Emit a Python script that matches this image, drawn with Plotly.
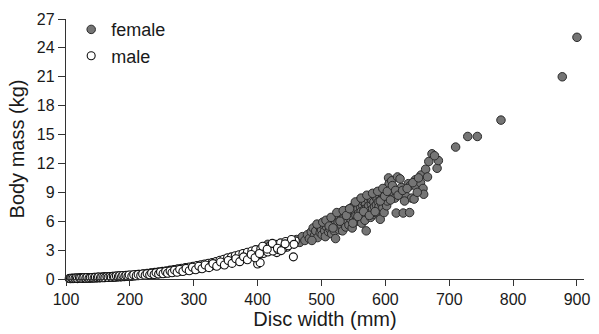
import plotly.graph_objects as go

# ---- data ----
female_width = [416, 419, 426, 438, 447, 455, 461, 466, 470, 474, 478, 481, 484, 487, 489, 491, 494, 496, 498, 500,
                501, 503, 505, 506, 508, 510, 511, 513, 514, 516, 517, 519, 520, 521, 522, 523, 525, 526, 527, 528,
                530, 531, 532, 533, 535, 536, 537, 538, 540, 541, 542, 543, 545, 546, 547, 548, 549, 550, 551, 552,
                553, 554, 555, 556, 557, 558, 559, 560, 561, 562, 563, 564, 565, 566, 567, 568, 569, 570, 571, 572,
                573, 574, 575, 576, 577, 578, 579, 580, 581, 582, 583, 584, 585, 586, 587, 588, 589, 590, 591, 592,
                593, 594, 595, 596, 597, 598, 600, 601, 602, 603, 604, 605, 606, 607, 609, 610, 612, 614, 615, 617,
                619, 621, 625, 628, 632, 636, 638, 639, 641, 645, 647, 647, 655, 656, 659, 660, 663, 673, 681, 683,
                710, 729, 744, 781, 877, 900,
                485, 493, 502, 507, 512, 515, 518, 524, 529, 534, 539, 544, 549, 553, 557, 562, 566, 571, 575, 580,
                584, 588, 592, 596, 599, 603, 608, 611, 616, 620, 623, 627, 630, 634, 643, 650, 652, 666, 668, 677]
female_mass = [3.6, 3.2, 3.1, 3.5, 3.4, 3.9, 4.1, 3.8, 4.4, 4.0, 4.6, 4.2, 4.9, 5.3, 4.5, 5.0, 4.3, 5.5, 4.8, 5.1,
               4.6, 5.6, 5.0, 4.4, 5.4, 5.8, 4.9, 5.2, 6.0, 4.7, 5.5, 6.2, 5.0, 5.7, 4.2, 6.4, 5.3, 5.9, 6.6, 5.1,
               6.1, 5.6, 6.8, 5.0, 6.3, 5.8, 7.0, 5.4, 6.5, 6.0, 7.2, 5.6, 6.7, 6.2, 7.4, 5.3, 6.9, 6.4, 7.6, 5.9,
               7.0, 6.6, 7.8, 6.1, 7.3, 6.8, 8.1, 6.3, 7.5, 7.0, 5.8, 7.7, 6.6, 8.0, 7.2, 6.1, 7.9, 5.0, 7.4, 8.3,
               6.8, 7.6, 8.5, 7.1, 6.4, 7.8, 8.2, 7.3, 6.7, 8.0, 7.5, 8.6, 6.9, 7.7, 8.3, 7.2, 8.0, 7.5, 8.7, 6.2,
               8.2, 7.8, 8.9, 7.4, 8.4, 6.9, 8.0, 9.0, 7.6, 8.1, 9.6, 10.5, 9.9, 8.6, 9.3, 10.2, 8.9, 8.8, 8.4, 6.85,
               10.6, 9.0, 9.5, 6.85, 8.6, 9.9, 6.9, 9.7, 8.4, 8.3, 9.7, 10.3, 10.0, 10.8, 9.4, 8.8, 11.4, 13.0, 11.5, 12.3,
               13.7, 14.8, 14.8, 16.5, 21.0, 25.1,
               4.0, 5.7, 5.9, 6.1, 5.5, 6.4, 5.3, 6.9, 6.0, 7.1, 6.6, 7.3, 5.8, 8.0, 6.5, 8.4, 7.0, 8.7, 6.6, 8.9,
               7.0, 9.1, 8.1, 9.4, 8.6, 9.1, 8.2, 9.7, 9.2, 8.7, 10.4, 9.2, 8.1, 9.4, 10.0, 9.0, 10.5, 10.6, 12.2, 12.8]

male_width = [105, 106, 108, 109, 110, 112, 113, 115, 116, 118, 119, 121, 122, 124, 125, 127, 128, 130, 131, 133,
              134, 136, 137, 139, 140, 142, 143, 145, 146, 148, 149, 151, 152, 154, 155, 157, 158, 160, 161, 163,
              164, 166, 167, 169, 170, 172, 174, 175, 177, 179, 180, 182, 184, 185, 187, 189, 190, 192, 194, 195,
              197, 199, 200, 202, 204, 206, 208, 210, 212, 214, 216, 218, 220, 222, 224, 226, 228, 230, 232, 234,
              236, 238, 240, 242, 244, 246, 248, 250, 252, 254, 256, 258, 260, 262, 264, 266, 268, 270, 272, 274,
              276, 278, 280, 282, 284, 286, 288, 290, 292, 294, 296, 298, 300, 302, 304, 306, 308, 310, 312, 314,
              316, 318, 320, 322, 324, 326, 328, 330, 332, 334, 336, 338, 340, 342, 344, 346, 348, 350, 352, 354,
              356, 358, 360, 362, 364, 366, 368, 370, 372, 374, 376, 378, 380, 383, 385, 388, 390, 393, 395, 398,
              400, 402, 404, 406, 410, 414, 418, 422, 426, 430, 434, 438, 442, 446, 450, 456, 459,
              111, 114, 117, 120, 123, 126, 129, 132, 135, 138, 141, 144, 147, 150, 153, 156, 159, 162, 165, 168,
              171, 173, 176, 178, 181, 183, 186, 188, 191, 193, 196, 198, 201, 203, 207, 209, 213, 215, 219, 221,
              225, 227, 231, 233, 237, 239, 243, 245, 249, 251, 255, 257, 261, 263, 267, 269, 273, 275, 279, 281,
              285, 287, 291, 293, 297, 299, 303, 305, 309, 311, 315, 317, 321, 323, 327, 329, 333, 335, 339, 341,
              345, 347, 351, 353, 357, 359, 363, 365, 369, 371, 375, 377, 381, 384, 387, 391, 394, 397, 401, 405,
              409, 412, 416, 420, 424, 428, 432, 436, 440, 444, 448, 453, 457,
              107, 109, 111, 114, 116, 118, 121, 123, 126, 128, 131, 133, 136, 138, 141, 144, 146, 149, 151, 154,
              156, 159, 161, 164, 166, 169, 171, 174, 176, 179, 182, 184, 187, 189, 192, 194, 197, 199, 203, 206,
              210, 213, 217, 220, 224, 227, 231, 234, 238, 241, 245, 248, 252, 256, 259, 263, 266, 270, 274, 278,
              283, 288, 293, 298, 303, 308, 313, 318, 324, 330, 336, 342, 348, 354, 360, 366, 372, 378, 384, 390,
              396, 403, 408, 415, 423, 431, 437, 443]
male_mass = [0.05, 0.06, 0.05, 0.07, 0.06, 0.05, 0.07, 0.06, 0.08, 0.07, 0.09, 0.08, 0.07, 0.09, 0.10, 0.08, 0.11, 0.09, 0.10, 0.12,
             0.10, 0.11, 0.13, 0.11, 0.12, 0.14, 0.12, 0.13, 0.15, 0.14, 0.16, 0.13, 0.15, 0.17, 0.16, 0.14, 0.18, 0.17, 0.19, 0.16,
             0.20, 0.18, 0.21, 0.19, 0.22, 0.20, 0.23, 0.21, 0.25, 0.22, 0.26, 0.24, 0.27, 0.25, 0.29, 0.26, 0.30, 0.28, 0.31, 0.29,
             0.33, 0.30, 0.34, 0.36, 0.32, 0.38, 0.35, 0.40, 0.37, 0.43, 0.39, 0.45, 0.42, 0.48, 0.44, 0.50, 0.46, 0.52, 0.49, 0.55,
             0.51, 0.58, 0.54, 0.62, 0.57, 0.65, 0.60, 0.68, 0.63, 0.72, 0.66, 0.76, 0.70, 0.80, 0.73, 0.84, 0.77, 0.88, 0.81, 0.92,
             0.85, 0.97, 0.89, 1.01, 0.93, 1.06, 0.98, 1.11, 1.02, 1.16, 1.07, 1.20, 1.10, 1.25, 1.14, 1.30, 1.20, 1.36, 1.24, 1.42,
             1.30, 1.48, 1.36, 1.54, 1.41, 1.60, 1.47, 1.67, 1.52, 1.74, 1.58, 1.81, 1.66, 1.88, 1.72, 1.95, 1.78, 2.02, 1.85, 2.10,
             1.92, 2.17, 1.98, 2.25, 2.06, 2.33, 2.14, 2.41, 2.20, 2.50, 2.28, 2.58, 2.35, 2.65, 2.44, 2.74, 2.50, 2.84, 2.58, 2.95,
             1.55, 2.90, 1.70, 2.75, 3.05, 2.85, 3.30, 3.10, 2.95, 2.74, 3.40, 3.25, 3.55, 3.30, 3.70, 2.30, 3.95,
             0.04, 0.09, 0.05, 0.10, 0.06, 0.12, 0.07, 0.14, 0.08, 0.15, 0.10, 0.17, 0.11, 0.19, 0.12, 0.21, 0.13, 0.23, 0.15, 0.25,
             0.17, 0.27, 0.18, 0.30, 0.20, 0.32, 0.22, 0.34, 0.24, 0.36, 0.26, 0.39, 0.28, 0.42, 0.31, 0.46, 0.34, 0.50, 0.38, 0.55,
             0.41, 0.60, 0.45, 0.64, 0.48, 0.69, 0.52, 0.74, 0.56, 0.79, 0.60, 0.85, 0.64, 0.92, 0.70, 0.98, 0.75, 1.05, 0.80, 1.12,
             0.88, 1.18, 0.93, 1.25, 0.99, 1.32, 1.05, 1.40, 1.12, 1.48, 1.18, 1.55, 1.25, 1.63, 1.33, 1.72, 1.40, 1.82, 1.50, 1.95,
             1.60, 2.05, 1.70, 2.20, 1.80, 2.30, 1.90, 2.42, 2.00, 2.52, 2.10, 2.65, 2.20, 2.78, 2.30, 2.90, 2.40, 3.05, 2.55, 3.15,
             2.65, 3.25, 2.80, 3.45, 2.90, 3.60, 3.05, 3.75, 3.20, 3.90, 3.45, 4.10, 3.60,
             0.03, 0.08, 0.07, 0.05, 0.10, 0.04, 0.11, 0.09, 0.06, 0.13, 0.08, 0.15, 0.09, 0.12, 0.16, 0.10, 0.18, 0.12, 0.20, 0.13,
             0.18, 0.22, 0.14, 0.24, 0.16, 0.26, 0.19, 0.28, 0.21, 0.31, 0.23, 0.33, 0.24, 0.36, 0.26, 0.38, 0.28, 0.41, 0.30, 0.44,
             0.33, 0.48, 0.36, 0.52, 0.40, 0.56, 0.43, 0.61, 0.47, 0.66, 0.51, 0.72, 0.55, 0.78, 0.60, 0.84, 0.65, 0.92, 0.70, 1.00,
             0.78, 1.10, 0.86, 1.22, 0.96, 1.34, 1.06, 1.46, 1.18, 1.60, 1.32, 1.76, 1.46, 1.92, 1.62, 2.10, 1.80, 2.30, 2.00, 2.55,
             2.20, 2.65, 3.40, 3.10, 3.70, 3.20, 2.95, 3.65]

x_ticks = [100, 200, 300, 400, 500, 600, 700, 800, 900]
y_ticks = [0, 3, 6, 9, 12, 15, 18, 21, 24, 27]

FONT = "Liberation Sans, Arial, sans-serif"

fig = go.Figure()
fig.add_trace(go.Scatter(
    x=female_width, y=female_mass, mode="markers", name="female", cliponaxis=False,
    marker=dict(size=8.5, color="#757575", line=dict(color="#2a2a2a", width=1)),
))
fig.add_trace(go.Scatter(
    x=male_width, y=male_mass, mode="markers", name="male", cliponaxis=False,
    marker=dict(size=8, color="white", line=dict(color="#111111", width=1.1)),
))

fig.update_layout(
    width=599, height=334,
    margin=dict(l=66, r=9, t=19, b=52),
    paper_bgcolor="white", plot_bgcolor="white",
    font=dict(family=FONT, size=16, color="#1a1a1a"),
    showlegend=True,
    legend=dict(x=0.01, y=1.03, xanchor="left", yanchor="top",
                font=dict(size=18, color="#1a1a1a"), bgcolor="rgba(0,0,0,0)",
                itemwidth=30, tracegroupgap=0),
)
fig.update_xaxes(
    range=[100, 911], tickvals=x_ticks, ticks="outside", ticklen=6, tickwidth=1.2,
    tickcolor="#333", showline=True, linecolor="#333", linewidth=1.3,
    showgrid=False, zeroline=False,
    title=dict(text="Disc width (mm)", font=dict(size=20), standoff=3),
)
fig.update_yaxes(
    range=[0, 27], tickvals=y_ticks, ticks="outside", ticklen=7, tickwidth=1.2,
    tickcolor="#333", showline=True, linecolor="#333", linewidth=1.3,
    showgrid=False, zeroline=False,
    title=dict(text="Body mass (kg)", font=dict(size=20), standoff=6),
)

fig.write_html("out.html")
